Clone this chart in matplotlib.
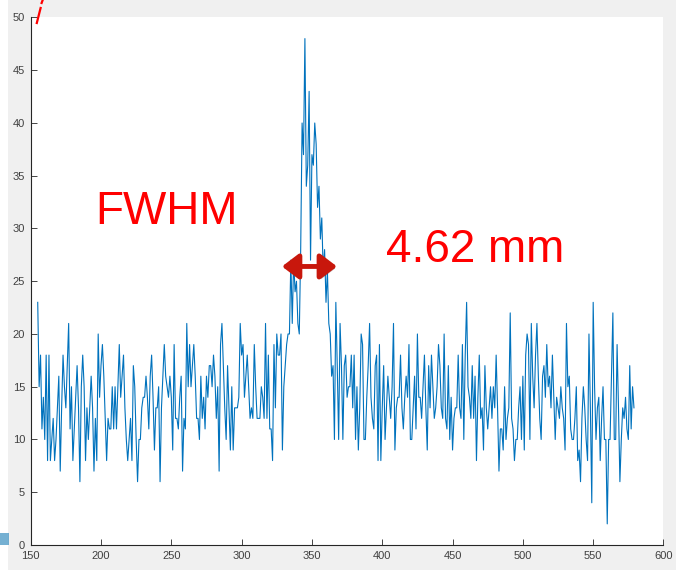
import numpy as np
import matplotlib
matplotlib.use("Agg")
import matplotlib.pyplot as plt
import matplotlib.patheffects as pe
from matplotlib.patches import FancyArrowPatch, Rectangle
from matplotlib.lines import Line2D

# line profile across the spot, one count value per pixel position
pixel_start = 155
counts = [
    23, 15, 18, 11, 14,
    10, 18, 8, 18, 8, 10, 12, 8, 10, 13,
    16, 7, 13, 18, 15, 13, 17, 21, 11, 15,
    8, 11, 14, 17, 13, 6, 15, 18, 15, 8,
    13, 10, 13, 16, 13, 7, 12, 8, 20, 14,
    17, 19, 16, 12, 8, 12, 11, 11, 15, 11,
    15, 11, 15, 19, 14, 16, 18, 13, 10, 8,
    10, 12, 8, 17, 15, 10, 6, 10, 10, 13,
    14, 14, 16, 14, 11, 16, 18, 14, 9, 13,
    13, 15, 6, 13, 16, 19, 16, 15, 14, 16,
    14, 9, 19, 12, 12, 11, 14, 16, 7, 12,
    11, 21, 15, 19, 15, 17, 19, 16, 12, 12,
    10, 16, 12, 14, 11, 16, 14, 17, 17, 15,
    18, 16, 12, 15, 7, 19, 21, 17, 13, 10,
    17, 13, 9, 15, 9, 13, 13, 13, 14, 21,
    18, 19, 14, 16, 18, 15, 12, 13, 12, 19,
    15, 12, 12, 12, 15, 14, 12, 21, 12, 18,
    11, 11, 8, 19, 13, 20, 18, 18, 20, 9,
    15, 17, 19, 20, 20, 27, 21, 27, 24, 25,
    21, 20, 28, 40, 37, 48, 34, 36, 43, 27,
    37, 36, 40, 38, 32, 34, 29, 31, 26, 28,
    23, 26, 21, 20, 16, 17, 10, 23, 17, 10,
    21, 17, 10, 17, 18, 14, 15, 15, 18, 13,
    18, 10, 15, 9, 13, 20, 19, 10, 10, 14,
    17, 21, 14, 12, 11, 17, 18, 8, 19, 8,
    13, 17, 10, 13, 16, 14, 12, 15, 21, 9,
    13, 14, 14, 18, 13, 11, 14, 16, 14, 19,
    10, 10, 13, 16, 11, 20, 14, 14, 12, 15,
    18, 13, 9, 17, 13, 18, 15, 12, 13, 15,
    19, 17, 13, 12, 20, 12, 11, 17, 10, 14,
    9, 12, 13, 13, 18, 13, 12, 19, 10, 18,
    23, 15, 14, 12, 17, 12, 16, 8, 14, 18,
    12, 13, 9, 17, 13, 11, 13, 15, 12, 15,
    13, 18, 13, 7, 11, 11, 9, 15, 10, 12,
    13, 22, 12, 11, 8, 10, 10, 13, 15, 10,
    16, 9, 18, 20, 19, 10, 21, 16, 13, 18,
    21, 16, 12, 10, 16, 17, 14, 19, 15, 16,
    13, 18, 14, 10, 14, 13, 12, 15, 13, 12,
    9, 21, 15, 16, 11, 10, 10, 12, 15, 8,
    9, 6, 12, 15, 13, 10, 8, 20, 13, 4,
    23, 15, 10, 13, 14, 8, 12, 15, 10, 10,
    2, 10, 10, 16, 22, 10, 10, 19, 13, 6,
    10, 13, 12, 14, 11, 10, 17, 11, 15, 13,
]
x_ticks = [150, 200, 250, 300, 350, 400, 450, 500, 550, 600]
y_ticks = [0, 5, 10, 15, 20, 25, 30, 35, 40, 45, 50]

# FWHM marker: half-maximum level and the two crossing points
fwhm_left, fwhm_right, half_max = 328.7, 367.8, 26.4
fwhm_text = "4.62 mm"

x = np.arange(pixel_start, pixel_start + len(counts))

fig = plt.figure(figsize=(6.76, 5.70), dpi=100, facecolor="#f0f0f0")
ax = fig.add_axes([0.0454, 0.0439, 0.9361, 0.9254])
ax.set_facecolor("white")

ax.plot(x, counts, color="#0072bd", lw=0.8)

ax.set_xlim(150, 600)
ax.set_ylim(0, 50)
ax.set_xticks(x_ticks)
ax.set_yticks(y_ticks)
for side in ["top", "right"]:
    ax.spines[side].set_visible(False)
for side in ["left", "bottom"]:
    ax.spines[side].set_color("#262626")
    ax.spines[side].set_linewidth(0.8)
ax.tick_params(direction="in", length=4.3, width=0.6, color="#262626",
               labelsize=8, labelcolor="#404040", pad=4)
for lab in ax.get_xticklabels() + ax.get_yticklabels():
    lab.set_family("Liberation Sans")

# annotation text
ax.text(195.7, 30.4, "FWHM", color="#ff0000", fontsize=33,
        family="Liberation Sans", ha="left", va="baseline")
ax.text(402.8, 26.8, fwhm_text, color="#ff0000", fontsize=33,
        family="Liberation Sans", ha="left", va="baseline")

# double-headed arrow across the half maximum
arrow = FancyArrowPatch((fwhm_left, half_max), (fwhm_right, half_max),
                        arrowstyle="<|-|>,head_length=0.5,head_width=0.38",
                        mutation_scale=20, color="#c8170c", lw=3.5,
                        shrinkA=0, shrinkB=0, zorder=5)
arrow.set_path_effects([pe.SimplePatchShadow(offset=(1.5, -1.5), alpha=0.35),
                        pe.Normal()])
ax.add_patch(arrow)

# small red stroke above the axes corner
fig.add_artist(Line2D([42.7 / 676, 41.6 / 676], [1.0, 1 - 3 / 570],
                      color="red", lw=1.6))
fig.add_artist(Line2D([40.6 / 676, 36.8 / 676], [1 - 8 / 570, 1 - 23 / 570],
                      color="red", lw=1.6))

# white margin strip on the left edge and a clipped blue mark
fig.add_artist(Rectangle((0, 0), 8 / 676, 1, transform=fig.transFigure,
                         facecolor="white", edgecolor="none"))
fig.add_artist(Rectangle((0, 1 - 545 / 570), 9 / 676, 12 / 570,
                         transform=fig.transFigure, facecolor="#3a8fc0",
                         edgecolor="none", alpha=0.7))

fig.savefig("out.png", dpi=100, facecolor=fig.get_facecolor())
